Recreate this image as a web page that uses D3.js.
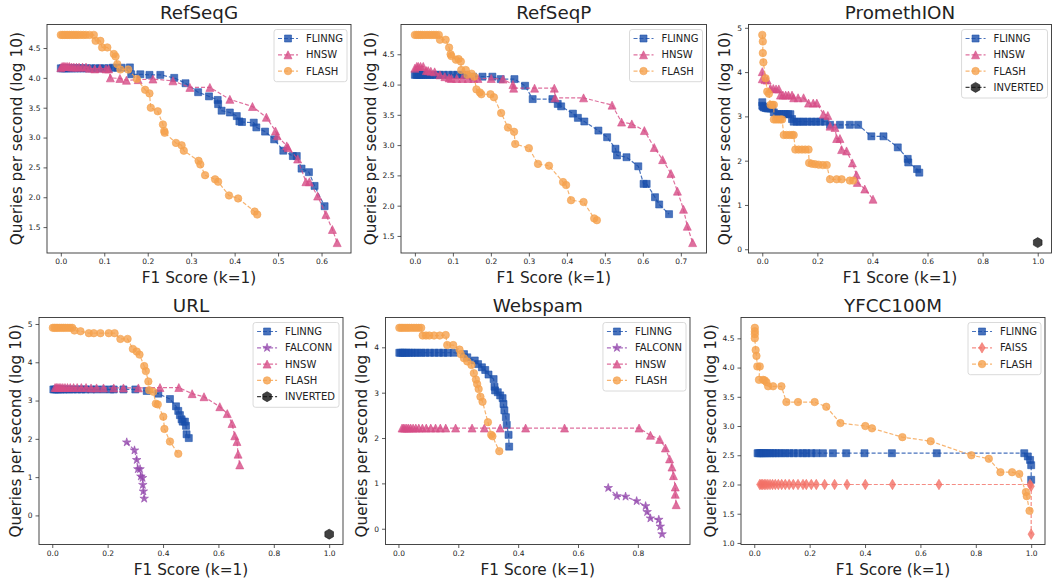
<!DOCTYPE html>
<html>
<head>
<meta charset="utf-8">
<script src="https://cdn.jsdelivr.net/npm/d3@7"></script>
<style>
  body { margin: 0; background: #fff; }
  text { font-family: "DejaVu Sans", sans-serif; fill: #222; }
</style>
</head>
<body>
<svg id="fig" width="1053" height="584"></svg>
<script>
// ---- data: [F1 score, log10 queries per second] ----
const refSeqG_FLINNG = [[0.000,4.16],[0.004,4.16],[0.008,4.16],[0.012,4.16],[0.016,4.16],[0.021,4.16],[0.026,4.16],[0.032,4.16],[0.038,4.16],[0.045,4.16],[0.052,4.16],[0.060,4.16],[0.070,4.16],[0.080,4.16],[0.090,4.16],[0.100,4.16],[0.110,4.16],[0.120,4.17],[0.130,4.17],[0.140,4.17],[0.159,4.175],[0.162,4.06],[0.183,4.06],[0.204,4.05],[0.229,4.05],[0.261,4.00],[0.287,3.91],[0.316,3.76],[0.341,3.69],[0.361,3.63],[0.362,3.56],[0.370,3.45],[0.389,3.42],[0.405,3.36],[0.411,3.27],[0.417,3.26],[0.444,3.25],[0.450,3.17],[0.470,3.10],[0.491,2.97],[0.512,2.78],[0.534,2.69],[0.543,2.69],[0.554,2.48],[0.571,2.42],[0.584,2.19],[0.607,1.85]];
const refSeqG_HNSW = [[0.000,4.17],[0.003,4.19],[0.006,4.19],[0.009,4.19],[0.012,4.19],[0.016,4.19],[0.020,4.19],[0.025,4.18],[0.030,4.18],[0.036,4.18],[0.042,4.18],[0.050,4.18],[0.058,4.18],[0.066,4.16],[0.078,4.15],[0.090,4.16],[0.104,4.15],[0.110,4.15],[0.114,4.00],[0.136,3.99],[0.151,3.96],[0.178,3.97],[0.212,3.98],[0.258,3.95],[0.297,3.84],[0.343,3.84],[0.389,3.64],[0.441,3.52],[0.473,3.34],[0.494,3.11],[0.498,3.03],[0.520,2.86],[0.523,2.83],[0.545,2.64],[0.564,2.26],[0.572,2.26],[0.591,2.02],[0.610,1.71],[0.625,1.46],[0.636,1.24]];
const refSeqG_FLASH = [[0.000,4.72],[0.004,4.72],[0.008,4.72],[0.012,4.72],[0.016,4.72],[0.020,4.72],[0.025,4.72],[0.030,4.72],[0.035,4.72],[0.040,4.72],[0.046,4.72],[0.052,4.72],[0.058,4.72],[0.066,4.72],[0.076,4.72],[0.080,4.62],[0.091,4.62],[0.095,4.51],[0.107,4.51],[0.122,4.40],[0.126,4.36],[0.130,4.23],[0.137,4.14],[0.155,4.14],[0.175,3.98],[0.194,3.80],[0.204,3.74],[0.207,3.50],[0.223,3.44],[0.235,3.22],[0.238,3.11],[0.239,3.08],[0.265,2.91],[0.278,2.87],[0.283,2.78],[0.317,2.61],[0.321,2.55],[0.332,2.37],[0.355,2.30],[0.362,2.26],[0.387,2.03],[0.408,1.98],[0.446,1.76],[0.452,1.71]];

const refSeqP_FLINNG = [[0.000,4.16],[0.004,4.16],[0.008,4.16],[0.012,4.16],[0.017,4.16],[0.022,4.16],[0.028,4.16],[0.034,4.16],[0.040,4.16],[0.047,4.16],[0.055,4.16],[0.065,4.16],[0.075,4.16],[0.088,4.16],[0.100,4.16],[0.112,4.16],[0.125,4.16],[0.135,4.16],[0.153,4.13],[0.178,4.13],[0.204,4.13],[0.226,4.09],[0.262,4.09],[0.290,3.98],[0.310,3.76],[0.362,3.76],[0.376,3.68],[0.385,3.64],[0.416,3.52],[0.429,3.45],[0.446,3.39],[0.483,3.24],[0.506,3.13],[0.528,2.94],[0.532,2.83],[0.557,2.80],[0.588,2.65],[0.602,2.36],[0.610,2.36],[0.632,2.14],[0.643,2.02],[0.669,1.86]];
const refSeqP_HNSW = [[0.000,4.27],[0.005,4.30],[0.009,4.30],[0.015,4.30],[0.022,4.30],[0.030,4.23],[0.035,4.23],[0.042,4.22],[0.052,4.21],[0.066,4.16],[0.079,4.13],[0.090,4.11],[0.096,4.10],[0.110,4.10],[0.125,4.10],[0.140,4.10],[0.155,4.10],[0.166,4.10],[0.201,4.10],[0.232,4.09],[0.258,4.00],[0.260,3.94],[0.315,3.94],[0.367,3.94],[0.369,3.78],[0.444,3.78],[0.519,3.66],[0.544,3.38],[0.571,3.35],[0.604,3.24],[0.630,2.96],[0.652,2.76],[0.674,2.53],[0.691,2.24],[0.707,1.94],[0.717,1.66],[0.731,1.39]];
const refSeqP_FLASH = [[0.000,4.82],[0.005,4.82],[0.010,4.82],[0.015,4.82],[0.020,4.82],[0.026,4.82],[0.032,4.82],[0.038,4.82],[0.044,4.82],[0.050,4.82],[0.056,4.82],[0.063,4.82],[0.066,4.74],[0.081,4.74],[0.090,4.61],[0.094,4.50],[0.096,4.47],[0.108,4.41],[0.115,4.42],[0.121,4.38],[0.122,4.24],[0.134,4.24],[0.138,4.16],[0.149,4.18],[0.156,4.13],[0.162,3.92],[0.171,3.87],[0.175,3.84],[0.199,3.84],[0.208,3.79],[0.227,3.53],[0.245,3.29],[0.261,3.22],[0.264,3.02],[0.300,2.95],[0.324,2.69],[0.353,2.66],[0.390,2.39],[0.398,2.34],[0.411,2.09],[0.444,2.06],[0.472,1.79],[0.479,1.76]];

const prom_FLINNG = [[0.000,3.32],[0.000,3.24],[0.003,3.22],[0.006,3.20],[0.012,3.19],[0.018,3.18],[0.024,3.18],[0.030,3.18],[0.036,3.18],[0.042,3.09],[0.054,3.05],[0.062,3.05],[0.070,3.05],[0.078,3.05],[0.086,3.05],[0.094,3.05],[0.102,3.05],[0.108,2.94],[0.114,2.88],[0.125,2.88],[0.138,2.88],[0.150,2.88],[0.165,2.88],[0.180,2.88],[0.195,2.88],[0.210,2.88],[0.228,2.88],[0.246,2.81],[0.282,2.81],[0.318,2.81],[0.348,2.81],[0.396,2.55],[0.440,2.55],[0.492,2.30],[0.528,2.04],[0.530,1.96],[0.562,1.81],[0.570,1.73]];
const prom_HNSW = [[0.000,4.01],[0.000,3.85],[0.010,3.83],[0.018,3.82],[0.030,3.63],[0.040,3.63],[0.050,3.62],[0.060,3.62],[0.066,3.48],[0.075,3.48],[0.085,3.48],[0.095,3.48],[0.108,3.48],[0.114,3.42],[0.130,3.42],[0.150,3.42],[0.168,3.30],[0.185,3.30],[0.198,3.30],[0.222,3.05],[0.238,3.02],[0.246,2.78],[0.264,2.75],[0.270,2.50],[0.282,2.50],[0.288,2.25],[0.306,2.22],[0.327,1.95],[0.342,1.68],[0.345,1.51],[0.372,1.36],[0.402,1.13]];
const prom_FLASH = [[0.000,4.84],[0.002,4.69],[0.002,4.43],[0.004,4.22],[0.012,3.86],[0.018,3.56],[0.024,3.51],[0.030,3.26],[0.036,3.26],[0.042,3.26],[0.042,2.93],[0.050,2.93],[0.058,2.93],[0.066,2.93],[0.072,2.93],[0.078,2.58],[0.088,2.58],[0.098,2.58],[0.108,2.58],[0.114,2.58],[0.120,2.25],[0.132,2.25],[0.144,2.25],[0.156,2.25],[0.168,2.25],[0.170,1.95],[0.180,1.93],[0.192,1.92],[0.205,1.91],[0.220,1.90],[0.234,1.90],[0.246,1.58],[0.270,1.58],[0.288,1.58],[0.318,1.55],[0.330,1.55]];
const prom_INVERTED = [[1.000,0.15]];

const url_FLINNG = [[0.004,3.29],[0.010,3.29],[0.016,3.29],[0.022,3.29],[0.030,3.29],[0.040,3.29],[0.050,3.29],[0.062,3.29],[0.075,3.29],[0.090,3.29],[0.105,3.29],[0.120,3.29],[0.140,3.29],[0.160,3.29],[0.185,3.29],[0.210,3.29],[0.222,3.29],[0.257,3.29],[0.300,3.29],[0.341,3.25],[0.383,3.18],[0.425,3.04],[0.447,2.85],[0.455,2.73],[0.461,2.62],[0.467,2.51],[0.471,2.45],[0.479,2.45],[0.483,2.34],[0.485,2.12],[0.493,2.02]];
const url_FALCONN = [[0.269,1.91],[0.297,1.70],[0.305,1.45],[0.309,1.21],[0.317,1.21],[0.320,1.02],[0.326,0.98],[0.327,0.80],[0.329,0.63],[0.332,0.44]];
const url_HNSW = [[0.010,3.34],[0.015,3.34],[0.020,3.34],[0.025,3.34],[0.031,3.34],[0.038,3.34],[0.046,3.34],[0.055,3.34],[0.065,3.34],[0.077,3.34],[0.090,3.34],[0.105,3.34],[0.122,3.34],[0.140,3.33],[0.160,3.33],[0.185,3.33],[0.222,3.33],[0.257,3.33],[0.311,3.33],[0.389,3.34],[0.457,3.34],[0.505,3.18],[0.548,3.10],[0.605,2.84],[0.632,2.66],[0.649,2.40],[0.659,2.08],[0.667,1.93],[0.671,1.60],[0.677,1.32]];
const url_FLASH = [[0.002,4.90],[0.008,4.90],[0.014,4.90],[0.020,4.90],[0.027,4.90],[0.034,4.90],[0.041,4.90],[0.048,4.90],[0.056,4.90],[0.064,4.90],[0.072,4.90],[0.080,4.83],[0.102,4.81],[0.132,4.76],[0.150,4.76],[0.174,4.76],[0.204,4.76],[0.225,4.76],[0.246,4.61],[0.272,4.61],[0.291,4.35],[0.305,4.28],[0.315,4.20],[0.332,3.90],[0.338,3.77],[0.347,3.50],[0.350,3.27],[0.365,3.23],[0.374,2.92],[0.381,2.90],[0.401,2.58],[0.405,2.26],[0.425,1.93],[0.455,1.61]];
const url_INVERTED = [[1.000,-0.49]];

const webspam_FLINNG = [[0.003,3.88],[0.008,3.88],[0.014,3.88],[0.020,3.88],[0.027,3.88],[0.035,3.88],[0.044,3.88],[0.054,3.88],[0.065,3.88],[0.077,3.88],[0.090,3.88],[0.105,3.88],[0.120,3.88],[0.135,3.88],[0.150,3.88],[0.165,3.88],[0.185,3.88],[0.219,3.85],[0.230,3.78],[0.255,3.71],[0.266,3.63],[0.279,3.56],[0.290,3.50],[0.301,3.40],[0.318,3.30],[0.321,3.13],[0.323,3.05],[0.332,3.01],[0.340,2.94],[0.348,2.88],[0.351,2.75],[0.354,2.61],[0.359,2.46],[0.362,2.29],[0.368,2.07],[0.370,1.81]];
const webspam_FALCONN = [[0.701,0.90],[0.730,0.72],[0.759,0.71],[0.796,0.61],[0.826,0.50],[0.831,0.37],[0.842,0.23],[0.870,0.20],[0.875,0.05],[0.881,-0.12]];
const webspam_HNSW = [[0.012,2.22],[0.017,2.22],[0.022,2.22],[0.028,2.22],[0.034,2.22],[0.041,2.22],[0.049,2.22],[0.058,2.22],[0.068,2.22],[0.080,2.22],[0.093,2.22],[0.108,2.22],[0.124,2.22],[0.140,2.22],[0.158,2.22],[0.191,2.22],[0.246,2.22],[0.287,2.22],[0.340,2.22],[0.425,2.22],[0.555,2.22],[0.804,2.22],[0.842,2.06],[0.873,1.97],[0.892,1.78],[0.906,1.54],[0.914,1.36],[0.919,1.17],[0.925,0.92],[0.925,0.76],[0.928,0.53]];
const webspam_FLASH = [[0.003,4.43],[0.009,4.43],[0.015,4.43],[0.022,4.43],[0.029,4.43],[0.036,4.43],[0.044,4.43],[0.052,4.43],[0.060,4.43],[0.068,4.43],[0.076,4.43],[0.081,4.26],[0.092,4.26],[0.103,4.26],[0.119,4.26],[0.138,4.26],[0.158,4.27],[0.163,4.05],[0.183,4.05],[0.204,3.95],[0.208,3.85],[0.219,3.76],[0.230,3.69],[0.244,3.61],[0.252,3.43],[0.259,3.29],[0.263,3.19],[0.268,3.08],[0.274,2.91],[0.281,2.80],[0.299,2.35],[0.310,2.07],[0.314,2.04],[0.337,1.71]];

const yfcc_FLINNG = [[0.012,2.535],[0.017,2.535],[0.022,2.535],[0.028,2.535],[0.034,2.535],[0.041,2.535],[0.049,2.535],[0.058,2.535],[0.067,2.535],[0.077,2.535],[0.088,2.535],[0.100,2.535],[0.113,2.535],[0.127,2.535],[0.142,2.535],[0.158,2.535],[0.176,2.535],[0.188,2.535],[0.206,2.535],[0.224,2.535],[0.248,2.535],[0.284,2.535],[0.332,2.535],[0.398,2.535],[0.497,2.535],[0.659,2.535],[0.975,2.535],[0.988,2.48],[0.996,2.42],[1.000,2.33],[1.000,2.08]];
const yfcc_FAISS = [[0.020,2.0],[0.025,2.0],[0.030,2.0],[0.036,2.0],[0.042,2.0],[0.049,2.0],[0.057,2.0],[0.066,2.0],[0.076,2.0],[0.087,2.0],[0.099,2.0],[0.112,2.0],[0.126,2.0],[0.141,2.0],[0.158,2.0],[0.176,2.0],[0.188,2.0],[0.206,2.0],[0.224,2.0],[0.254,2.0],[0.290,2.0],[0.335,2.0],[0.401,2.0],[0.499,2.0],[0.667,2.0],[0.996,2.0],[1.000,1.97],[1.000,1.15]];
const yfcc_FLASH = [[0.002,4.68],[0.002,4.62],[0.002,4.57],[0.002,4.50],[0.005,4.30],[0.008,4.20],[0.011,4.02],[0.020,4.02],[0.017,3.79],[0.032,3.79],[0.038,3.78],[0.044,3.75],[0.050,3.68],[0.068,3.68],[0.098,3.68],[0.116,3.41],[0.158,3.41],[0.218,3.41],[0.260,3.33],[0.311,3.05],[0.401,3.00],[0.425,2.96],[0.535,2.81],[0.637,2.74],[0.784,2.50],[0.847,2.44],[0.889,2.21],[0.931,2.21],[0.957,2.18],[0.981,1.87],[0.984,1.80],[0.994,1.55]];

// tick values
const xTicks7 = [0.0, 0.1, 0.2, 0.3, 0.4, 0.5, 0.6];
const xTicks8 = [0.0, 0.1, 0.2, 0.3, 0.4, 0.5, 0.6, 0.7];
const xTicksUnit = [0.0, 0.2, 0.4, 0.6, 0.8, 1.0];
const xTicksWeb = [0.0, 0.2, 0.4, 0.6, 0.8];
const yTicksHalf = [1.5, 2.0, 2.5, 3.0, 3.5, 4.0, 4.5];
const yTicksYfcc = [1.0, 1.5, 2.0, 2.5, 3.0, 3.5, 4.0, 4.5];
const yTicksFive = [0, 1, 2, 3, 4, 5];
const yTicksFour = [0, 1, 2, 3, 4];

// ---- style per method ----
const methodStyle = {
  FLINNG:   { color: '#1a4fab', marker: 'square',   size: 7 },
  FALCONN:  { color: '#9448ad', marker: 'star',     size: 9 },
  HNSW:     { color: '#d64c86', marker: 'triangle', size: 8 },
  FAISS:    { color: '#f27167', marker: 'diamond',  size: 10.5 },
  FLASH:    { color: '#f5a14e', marker: 'circle',   size: 7.5 },
  INVERTED: { color: '#111111', marker: 'hexagon',  size: 10 }
};

const panels = [
  { title: 'RefSeqG', box: { l: 47, t: 24.5, r: 351, b: 253 }, xTicks: xTicks7, yTicks: yTicksHalf, yFmt: '.1f',
    series: [['FLINNG', refSeqG_FLINNG], ['HNSW', refSeqG_HNSW], ['FLASH', refSeqG_FLASH]] },
  { title: 'RefSeqP', box: { l: 401, t: 24.5, r: 706.5, b: 253 }, xTicks: xTicks8, yTicks: yTicksHalf, yFmt: '.1f',
    series: [['FLINNG', refSeqP_FLINNG], ['HNSW', refSeqP_HNSW], ['FLASH', refSeqP_FLASH]] },
  { title: 'PromethION', box: { l: 748.5, t: 24.5, r: 1051.5, b: 253 }, xTicks: xTicksUnit, yTicks: yTicksFive, yFmt: 'd',
    series: [['FLINNG', prom_FLINNG], ['HNSW', prom_HNSW], ['FLASH', prom_FLASH], ['INVERTED', prom_INVERTED]] },
  { title: 'URL', box: { l: 39, t: 317.5, r: 343, b: 544.5 }, xTicks: xTicksUnit, yTicks: yTicksFive, yFmt: 'd',
    series: [['FLINNG', url_FLINNG], ['FALCONN', url_FALCONN], ['HNSW', url_HNSW], ['FLASH', url_FLASH], ['INVERTED', url_INVERTED]] },
  { title: 'Webspam', box: { l: 385.5, t: 317.5, r: 690, b: 544.5 }, xTicks: xTicksWeb, yTicks: yTicksFour, yFmt: 'd',
    series: [['FLINNG', webspam_FLINNG], ['FALCONN', webspam_FALCONN], ['HNSW', webspam_HNSW], ['FLASH', webspam_FLASH]] },
  { title: 'YFCC100M', box: { l: 741, t: 317.5, r: 1045, b: 544.5 }, xTicks: xTicksUnit, yTicks: yTicksYfcc, yFmt: '.1f',
    series: [['FLINNG', yfcc_FLINNG], ['FAISS', yfcc_FAISS], ['FLASH', yfcc_FLASH]] }
];

function markerPath(shape, s) {
  const h = s / 2;
  let pts;
  switch (shape) {
    case 'square':
      return `M${-h},${-h}H${h}V${h}H${-h}Z`;
    case 'triangle':
      return `M0,${-h}L${h},${h}L${-h},${h}Z`;
    case 'circle':
      return d3.symbol(d3.symbolCircle, Math.PI * h * h)();
    case 'diamond':
      return `M0,${-h}L${h * 0.6},0L0,${h}L${-h * 0.6},0Z`;
    case 'star':
      pts = d3.range(10).map(i => {
        const r = i % 2 ? h * 0.382 : h;
        const a = -Math.PI / 2 + i * Math.PI / 5;
        return [r * Math.cos(a), r * Math.sin(a)];
      });
      return 'M' + pts.join('L') + 'Z';
    case 'hexagon':
      pts = d3.range(6).map(i => {
        const a = -Math.PI / 2 + i * Math.PI / 3;
        return [h * Math.cos(a), h * Math.sin(a)];
      });
      return 'M' + pts.join('L') + 'Z';
  }
}

const svg = d3.select('#fig');
svg.append('rect').attr('width', 1053).attr('height', 584).attr('fill', '#fff');

function padded(ext) {
  const span = ext[1] - ext[0];
  return [ext[0] - 0.05 * span, ext[1] + 0.05 * span];
}

panels.forEach(p => {
  const b = p.box;
  const allPts = p.series.flatMap(s => s[1]);
  const x = d3.scaleLinear().domain(padded(d3.extent(allPts, d => d[0]))).range([b.l, b.r]);
  const y = d3.scaleLinear().domain(padded(d3.extent(allPts, d => d[1]))).range([b.b, b.t]);

  const g = svg.append('g');

  // axes
  const xAxis = d3.axisBottom(x).tickValues(p.xTicks).tickFormat(d3.format('.1f')).tickSize(3.5).tickPadding(2.5);
  const yAxis = d3.axisLeft(y).tickValues(p.yTicks).tickFormat(d3.format(p.yFmt)).tickSize(3.5).tickPadding(3);
  const gx = g.append('g').attr('transform', `translate(0,${b.b})`).call(xAxis);
  const gy = g.append('g').attr('transform', `translate(${b.l},0)`).call(yAxis);
  [gx, gy].forEach(a => {
    a.select('.domain').remove();
    a.selectAll('.tick line').attr('stroke', '#333').attr('stroke-width', 0.8);
    a.selectAll('.tick text').attr('font-size', 7.5).attr('fill', '#333')
      .style('font-family', '"DejaVu Sans", sans-serif');
  });

  // series
  const line = d3.line().x(d => x(d[0])).y(d => y(d[1]));
  p.series.forEach(([name, pts]) => {
    const st = methodStyle[name];
    g.append('path').datum(pts)
      .attr('d', line)
      .attr('fill', 'none')
      .attr('stroke', st.color)
      .attr('stroke-opacity', 0.8)
      .attr('stroke-width', 1.2)
      .attr('stroke-dasharray', '4,2');
    g.append('g').selectAll('path').data(pts).join('path')
      .attr('d', markerPath(st.marker, st.size))
      .attr('transform', d => `translate(${x(d[0])},${y(d[1])})`)
      .attr('fill', st.color)
      .attr('fill-opacity', 0.8)
      .attr('stroke', st.color)
      .attr('stroke-opacity', 0.8)
      .attr('stroke-width', 0.7);
  });

  // frame
  g.append('rect')
    .attr('x', b.l).attr('y', b.t)
    .attr('width', b.r - b.l).attr('height', b.b - b.t)
    .attr('fill', 'none').attr('stroke', '#333').attr('stroke-width', 0.9);

  // title and axis labels
  g.append('text').attr('x', (b.l + b.r) / 2).attr('y', b.t - 5.5)
    .attr('text-anchor', 'middle').attr('font-size', 18.3).text(p.title);
  g.append('text').attr('x', (b.l + b.r) / 2).attr('y', b.b + 30)
    .attr('text-anchor', 'middle').attr('font-size', 15.3).text('F1 Score (k=1)');
  let maxW = 0;
  gy.selectAll('.tick text').each(function () { maxW = Math.max(maxW, this.getComputedTextLength()); });
  g.append('text')
    .attr('transform', `translate(${b.l - maxW - 13.5},${(b.t + b.b) / 2}) rotate(-90)`)
    .attr('text-anchor', 'middle').attr('font-size', 15.3)
    .text('Queries per second (log 10)');

  // legend
  const lg = g.append('g');
  const labels = lg.selectAll('text.lab').data(p.series).join('text')
    .attr('class', 'lab').attr('font-size', 10).text(d => d[0]);
  let textW = 0;
  labels.each(function () { textW = Math.max(textW, this.getComputedTextLength()); });
  const lw = 36 + textW;
  const lh = p.series.length * 16.3 + 3.3;
  const lx = b.r - 4 - lw;
  const ly = b.t + 5;
  lg.insert('rect', 'text')
    .attr('x', lx).attr('y', ly).attr('width', lw).attr('height', lh)
    .attr('rx', 2.5).attr('fill', '#fff').attr('fill-opacity', 0.85)
    .attr('stroke', '#d0d0d0').attr('stroke-width', 0.8);
  p.series.forEach(([name], i) => {
    const st = methodStyle[name];
    const cy = ly + 9 + i * 16.3;
    lg.append('line')
      .attr('x1', lx + 4).attr('x2', lx + 24).attr('y1', cy).attr('y2', cy)
      .attr('stroke', st.color).attr('stroke-opacity', 0.8)
      .attr('stroke-width', 1.2).attr('stroke-dasharray', '4,2');
    lg.append('path')
      .attr('d', markerPath(st.marker, st.size))
      .attr('transform', `translate(${lx + 14},${cy})`)
      .attr('fill', st.color).attr('fill-opacity', 0.8)
      .attr('stroke', st.color).attr('stroke-opacity', 0.8).attr('stroke-width', 0.7);
  });
  labels.attr('x', lx + 32).attr('y', (d, i) => ly + 9 + i * 16.3 + 3.6);
  labels.raise();
});
</script>
</body>
</html>
